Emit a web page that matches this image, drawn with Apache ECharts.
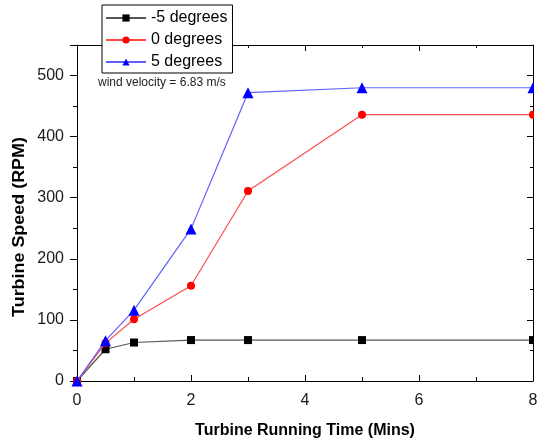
<!DOCTYPE html>
<html>
<head>
<meta charset="utf-8">
<script src="https://cdn.jsdelivr.net/npm/echarts@6/dist/echarts.min.js"></script>
<style>
  html, body { margin: 0; padding: 0; background: #fff; }
  #chart { width: 545px; height: 444px; }
</style>
</head>
<body>
<div id="chart"></div>
<script>
// Running time (minutes) at which speed was measured
const runningTime = [0, 0.5, 1, 2, 3, 5, 8];
// Turbine speed (RPM) for each blade pitch angle
const speedMinus5 = [0, 52, 63, 67, 67, 67, 67];
const speedZero   = [0, 62, 101, 156, 311, 436, 436];
const speedPlus5  = [0, 66, 116, 249, 472, 480, 480];
const seriesNames = ['-5 degrees', '0 degrees', '5 degrees'];
const xTicks = [0, 2, 4, 6, 8];
const yTicks = [0, 100, 200, 300, 400, 500];

const pairs = vals => runningTime.map((t, i) => [t, vals[i]]);

const FONT = 'Liberation Sans, Arial, sans-serif';

// Top/right axes only close the frame: inward ticks, no labels
function frameAxis(extra) {
  return Object.assign({
    type: 'value',
    axisLine: { show: true, onZero: false, lineStyle: { color: '#000', width: 1 } },
    splitLine: { show: false },
    axisLabel: { show: false },
    axisTick: { show: true, inside: true, length: 6, lineStyle: { color: '#000' } },
    minorTick: { show: true, splitNumber: 2, length: 3, lineStyle: { color: '#000' } },
    minorSplitLine: { show: false }
  }, extra);
}

const chart = echarts.init(document.getElementById('chart'), null, { renderer: 'canvas' });

chart.setOption({
  backgroundColor: '#fff',
  animation: false,
  textStyle: { fontFamily: FONT },
  grid: { left: 77, right: 12, top: 45, bottom: 62 },
  xAxis: [
    {
      type: 'value', min: 0, max: 8, interval: 2,
      position: 'bottom',
      axisLine: { show: true, onZero: false, lineStyle: { color: '#000', width: 1 } },
      axisTick: { show: true, inside: true, length: 6, lineStyle: { color: '#000' } },
      minorTick: { show: true, splitNumber: 2, length: 4, lineStyle: { color: '#000' } },
      splitLine: { show: false },
      axisLabel: {
        color: '#1a1a1a', fontSize: 16, fontFamily: FONT, margin: 12,
        formatter: v => (xTicks.indexOf(v) >= 0 ? String(v) : '')
      },
      name: 'Turbine Running Time (Mins)',
      nameLocation: 'middle',
      nameGap: 42,
      nameTextStyle: { fontSize: 16, fontWeight: 'bold', color: '#000', fontFamily: FONT }
    },
    frameAxis({ min: 0, max: 8, interval: 2, position: 'top' })
  ],
  yAxis: [
    {
      type: 'value', min: 0, max: 550, interval: 100,
      position: 'left',
      axisLine: { show: true, onZero: false, lineStyle: { color: '#000', width: 1 } },
      axisTick: { show: true, inside: false, length: 7, lineStyle: { color: '#000' } },
      minorTick: { show: true, splitNumber: 2, length: 4, lineStyle: { color: '#000' } },
      splitLine: { show: false },
      axisLabel: {
        color: '#1a1a1a', fontSize: 16, fontFamily: FONT, margin: 13,
        formatter: v => (yTicks.indexOf(v) >= 0 ? String(v) : '')
      }
    },
    frameAxis({ min: 0, max: 550, interval: 100, position: 'right' })
  ],
  legend: {
    data: seriesNames,
    orient: 'vertical',
    left: 102,
    top: 5,
    itemWidth: 40,
    itemHeight: 9,
    itemGap: 6,
    padding: [5, 5, 3, 3],
    backgroundColor: '#fff',
    borderColor: '#000',
    borderWidth: 1,
    borderRadius: 0,
    textStyle: { fontSize: 16, color: '#000', fontFamily: FONT }
  },
  graphic: [
    {
      type: 'text',
      left: 98,
      top: 77,
      style: { text: 'wind velocity = 6.83 m/s', fontSize: 12, fill: '#222', fontFamily: FONT }
    },
    {
      // vertical axis title
      type: 'text',
      x: 20,
      y: 227,
      rotation: Math.PI / 2,
      scaleX: 1.12,
      style: {
        text: 'Turbine Speed (RPM)', fontSize: 16, fontWeight: 'bold', fill: '#000',
        fontFamily: FONT, align: 'center', verticalAlign: 'middle'
      }
    },
    {
      // markers are cut off at the right edge of the plot frame
      type: 'rect',
      shape: { x: 534, y: 40, width: 11, height: 348 },
      style: { fill: '#fff' },
      z: 100
    }
  ],
  series: [
    {
      name: seriesNames[0], type: 'line', data: pairs(speedMinus5),
      symbol: 'rect', symbolSize: 8,
      itemStyle: { color: '#000' },
      lineStyle: { color: '#555', width: 1.2 },
      z: 3
    },
    {
      name: seriesNames[1], type: 'line', data: pairs(speedZero),
      symbol: 'circle', symbolSize: 8,
      itemStyle: { color: '#ff0000' },
      lineStyle: { color: '#ff4a4a', width: 1.2 },
      z: 4
    },
    {
      name: seriesNames[2], type: 'line', data: pairs(speedPlus5),
      symbol: 'triangle', symbolSize: 11,
      itemStyle: { color: '#0000ff' },
      lineStyle: { color: '#6060ff', width: 1.2 },
      z: 5
    }
  ]
});
</script>
</body>
</html>
